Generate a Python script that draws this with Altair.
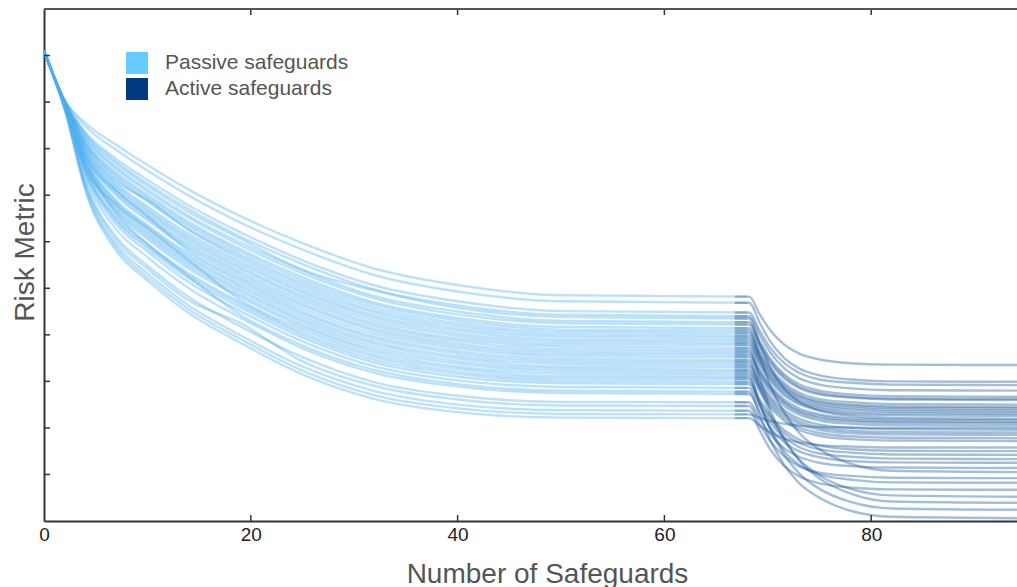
import altair as alt
import pandas as pd

# ---- values ----
passive_x = [0, 2, 4, 7, 10, 14, 19, 25, 32, 40, 50, 68]
passive_lines = [
    [10.1, 9.05, 8.55, 8.08, 7.65, 7.12, 6.55, 5.97, 5.42, 5.07, 4.85, 4.82],
    [10.1, 9.04, 8.48, 7.97, 7.53, 6.99, 6.41, 5.83, 5.28, 4.93, 4.72, 4.69],
    [10.1, 9.02, 8.36, 7.78, 7.33, 6.78, 6.20, 5.60, 5.06, 4.72, 4.51, 4.48],
    [10.1, 9.02, 8.32, 7.72, 7.25, 6.70, 6.11, 5.52, 4.97, 4.63, 4.43, 4.40],
    [10.1, 9.01, 8.29, 7.67, 7.20, 6.64, 6.06, 5.40, 4.95, 4.58, 4.38, 4.35],
    [10.1, 9.01, 8.25, 7.60, 7.13, 6.56, 5.98, 5.38, 4.83, 4.50, 4.30, 4.27],
    [10.1, 9.00, 8.22, 7.56, 7.08, 6.51, 5.92, 5.32, 4.78, 4.44, 4.25, 4.22],
    [10.1, 9.00, 8.17, 7.49, 7.01, 6.43, 5.84, 5.24, 4.69, 4.36, 4.17, 4.14],
    [10.1, 8.99, 8.14, 7.44, 6.96, 6.38, 5.79, 5.18, 4.64, 4.31, 4.11, 4.09],
    [10.1, 8.99, 8.12, 7.40, 6.91, 6.33, 5.73, 5.12, 4.58, 4.25, 4.06, 4.04],
    [10.1, 8.99, 8.09, 7.35, 6.86, 6.27, 5.68, 5.07, 4.52, 4.20, 4.01, 3.98],
    [10.1, 8.98, 8.06, 7.30, 6.90, 6.25, 5.63, 5.01, 4.47, 4.14, 3.96, 3.93],
    [10.1, 8.98, 8.03, 7.26, 6.76, 6.17, 5.57, 4.95, 4.41, 4.09, 3.90, 3.88],
    [10.1, 8.97, 8.00, 7.21, 6.71, 6.11, 5.52, 4.90, 4.36, 4.03, 3.85, 3.83],
    [10.1, 8.97, 7.97, 7.17, 6.66, 6.06, 5.46, 4.84, 4.30, 3.98, 3.80, 3.78],
    [10.1, 8.97, 7.94, 7.12, 6.61, 6.01, 5.41, 4.79, 4.24, 3.92, 3.75, 3.72],
    [10.1, 8.96, 7.91, 7.08, 6.56, 5.95, 5.35, 4.73, 4.19, 3.87, 3.69, 3.67],
    [10.1, 8.96, 7.88, 7.03, 6.51, 5.90, 5.30, 4.67, 4.13, 3.81, 3.64, 3.62],
    [10.1, 8.95, 7.85, 6.99, 6.46, 5.85, 5.24, 4.62, 4.08, 3.76, 3.59, 3.57],
    [10.1, 8.95, 7.83, 7.10, 6.55, 5.80, 5.19, 4.56, 4.02, 3.71, 3.54, 3.52],
    [10.1, 8.95, 7.80, 6.89, 6.36, 5.74, 5.14, 4.50, 3.96, 3.65, 3.48, 3.46],
    [10.1, 8.94, 7.77, 6.85, 6.31, 5.69, 5.08, 4.45, 3.91, 3.60, 3.43, 3.41],
    [10.1, 8.94, 7.74, 6.80, 6.26, 5.64, 5.03, 4.39, 3.85, 3.54, 3.38, 3.36],
    [10.1, 8.93, 7.71, 6.76, 6.21, 5.58, 4.97, 4.33, 3.80, 3.49, 3.32, 3.31],
    [10.1, 8.93, 7.68, 6.71, 6.16, 5.53, 4.92, 4.28, 3.74, 3.43, 3.27, 3.25],
    [10.1, 8.93, 7.65, 6.67, 6.11, 5.48, 4.86, 4.22, 3.68, 3.38, 3.22, 3.20],
    [10.1, 8.92, 7.62, 6.62, 6.06, 5.42, 4.81, 4.17, 3.63, 3.32, 3.17, 3.15],
    [10.1, 8.92, 7.59, 6.80, 6.30, 5.60, 4.75, 4.11, 3.57, 3.27, 3.11, 3.10],
    [10.1, 8.91, 7.56, 6.53, 5.96, 5.32, 4.70, 4.05, 3.52, 3.21, 3.06, 3.05],
    [10.1, 8.91, 7.54, 6.48, 5.91, 5.27, 4.65, 4.00, 3.46, 3.16, 3.01, 2.99],
    [10.1, 8.91, 7.51, 6.44, 5.86, 5.21, 4.59, 3.94, 3.40, 3.10, 2.96, 2.94],
    [10.1, 8.90, 7.46, 6.37, 5.79, 5.13, 4.51, 3.86, 3.32, 3.02, 2.88, 2.86],
    [10.1, 8.89, 7.70, 6.60, 5.95, 5.25, 4.43, 3.77, 3.24, 2.94, 2.80, 2.78],
    [10.1, 8.89, 7.39, 6.26, 5.67, 5.00, 4.37, 3.71, 3.18, 2.89, 2.75, 2.73],
    [10.1, 8.88, 7.29, 6.10, 5.49, 4.81, 4.18, 3.52, 2.98, 2.69, 2.56, 2.55],
    [10.1, 8.87, 7.25, 6.03, 5.42, 4.74, 4.25, 3.43, 2.90, 2.61, 2.48, 2.47],
    [10.1, 8.86, 7.19, 5.94, 5.32, 4.63, 3.99, 3.32, 2.79, 2.50, 2.38, 2.37],
    [10.1, 8.86, 7.14, 5.87, 5.24, 4.55, 3.91, 3.23, 2.70, 2.42, 2.30, 2.29],
    [10.1, 8.85, 7.10, 5.80, 5.17, 4.47, 3.83, 3.15, 2.62, 2.34, 2.22, 2.21],
]

active_x = [66.8, 68.2, 69.2, 70.2, 71.6, 73, 75, 78, 82, 94.5]
active_lines = [
    [4.82, 4.82, 4.45, 4.11, 3.79, 3.60, 3.47, 3.39, 3.36, 3.35],
    [4.69, 4.69, 4.27, 3.87, 3.50, 3.28, 3.13, 3.04, 3.00, 2.99],
    [4.48, 4.48, 4.09, 3.73, 3.39, 3.19, 3.04, 2.97, 2.93, 2.92],
    [4.40, 4.40, 4.00, 3.63, 3.28, 3.07, 2.93, 2.85, 2.81, 2.80],
    [4.35, 4.35, 3.81, 3.32, 2.84, 2.57, 2.37, 2.26, 2.21, 2.20],
    [4.27, 4.27, 3.87, 3.50, 3.15, 2.94, 2.80, 2.72, 2.68, 2.67],
    [4.22, 4.22, 3.82, 3.45, 3.10, 2.89, 2.75, 2.67, 2.63, 2.62],
    [4.14, 4.14, 3.76, 3.40, 3.06, 2.86, 2.72, 2.65, 2.61, 2.60],
    [4.09, 4.09, 3.54, 2.93, 2.33, 1.90, 1.54, 1.23, 1.08, 1.05],
    [4.04, 4.04, 3.66, 3.30, 2.96, 2.76, 2.62, 2.55, 2.51, 2.50],
    [3.98, 3.98, 3.60, 3.25, 2.91, 2.71, 2.57, 2.50, 2.46, 2.45],
    [3.93, 3.93, 3.55, 3.21, 2.87, 2.68, 2.54, 2.47, 2.43, 2.42],
    [3.88, 3.88, 3.51, 3.16, 2.83, 2.64, 2.50, 2.43, 2.39, 2.38],
    [3.83, 3.83, 3.46, 3.11, 2.79, 2.59, 2.46, 2.39, 2.35, 2.34],
    [3.78, 3.78, 3.41, 3.07, 2.74, 2.55, 2.42, 2.34, 2.31, 2.30],
    [3.72, 3.72, 3.36, 3.02, 2.70, 2.51, 2.38, 2.30, 2.27, 2.26],
    [3.67, 3.67, 3.08, 2.42, 1.77, 1.31, 0.91, 0.59, 0.42, 0.39],
    [3.62, 3.62, 3.26, 2.92, 2.61, 2.42, 2.29, 2.21, 2.18, 2.17],
    [3.57, 3.57, 3.21, 2.88, 2.56, 2.37, 2.25, 2.17, 2.14, 2.13],
    [3.52, 3.52, 3.17, 2.84, 2.53, 2.34, 2.21, 2.14, 2.11, 2.10],
    [3.46, 3.46, 3.11, 2.78, 2.47, 2.29, 2.16, 2.09, 2.06, 2.05],
    [3.41, 3.41, 2.89, 2.31, 1.73, 1.33, 0.98, 0.69, 0.55, 0.52],
    [3.36, 3.36, 3.01, 2.69, 2.38, 2.20, 2.07, 2.00, 1.97, 1.96],
    [3.31, 3.31, 2.96, 2.63, 2.32, 2.14, 2.01, 1.94, 1.91, 1.90],
    [3.25, 3.25, 2.90, 2.58, 2.27, 2.09, 1.96, 1.89, 1.86, 1.85],
    [3.20, 3.20, 2.85, 2.52, 2.21, 2.02, 1.89, 1.82, 1.79, 1.78],
    [3.15, 3.15, 2.79, 2.46, 2.15, 1.96, 1.83, 1.76, 1.73, 1.72],
    [3.10, 3.10, 2.53, 2.01, 1.50, 1.21, 1.00, 0.89, 0.83, 0.82],
    [3.05, 3.05, 2.54, 1.98, 1.42, 1.03, 0.69, 0.41, 0.27, 0.24],
    [2.99, 2.99, 2.62, 2.27, 1.95, 1.75, 1.62, 1.54, 1.51, 1.50],
    [2.94, 2.94, 2.56, 2.21, 1.88, 1.68, 1.54, 1.47, 1.43, 1.42],
    [2.86, 2.86, 2.48, 2.13, 1.79, 1.59, 1.45, 1.38, 1.34, 1.33],
    [2.78, 2.78, 2.29, 1.75, 1.20, 0.82, 0.50, 0.22, 0.09, 0.06],
    [2.73, 2.73, 2.36, 2.02, 1.69, 1.50, 1.37, 1.29, 1.26, 1.25],
    [2.55, 2.55, 2.20, 1.87, 1.56, 1.38, 1.25, 1.18, 1.15, 1.14],
    [2.47, 2.47, 2.08, 1.73, 1.39, 1.18, 1.04, 0.97, 0.93, 0.92],
    [2.37, 2.37, 1.95, 1.55, 1.18, 0.96, 0.81, 0.72, 0.68, 0.67],
    [2.29, 2.29, 2.22, 2.15, 2.09, 2.05, 2.02, 2.01, 2.00, 2.00],
    [2.21, 2.21, 2.05, 1.91, 1.77, 1.69, 1.63, 1.60, 1.58, 1.58],
]

legend_labels = ["Passive safeguards", "Active safeguards"]
legend_colors = ["#66CCFF", "#003A80"]
x_label_ticks = [0, 20, 40, 60, 80]
x_inner_ticks = [20, 40, 60, 80]
y_inner_ticks = [1, 2, 3, 4, 5, 6, 7, 8, 9, 10]

# ---- build tables ----
prow = []
for i, ys in enumerate(passive_lines):
    for x, y in zip(passive_x, ys):
        prow.append({"x": x, "y": y, "line": f"p{i}"})
df_p = pd.DataFrame(prow)

arow = []
for i, ys in enumerate(active_lines):
    for x, y in zip(active_x, ys):
        arow.append({"x": x, "y": y, "line": f"a{i}"})
df_a = pd.DataFrame(arow)

W, H = 973, 512
FONT = "Liberation Sans"

xs = alt.Scale(domain=[0, 94.1], nice=False, zero=False)
ys = alt.Scale(domain=[0, 11], nice=False, zero=False)

x_axis = alt.Axis(
    values=x_label_ticks, title="Number of Safeguards", ticks=False, grid=False,
    labelFontSize=19, labelColor="#222", labelPadding=4, labelFont=FONT,
    labelFlush=False, labelOverlap=False,
    domain=True, domainColor="#333", domainWidth=2,
    titleFont=FONT, titleFontSize=28, titleColor="#555", titleFontWeight="normal",
    titleX=503, titleY=61, titleBaseline="alphabetic", titleAlign="center",
)
y_axis = alt.Axis(
    title="Risk Metric", labels=False, ticks=False, grid=False,
    domain=True, domainColor="#333", domainWidth=2,
    titleFont=FONT, titleFontSize=28, titleColor="#555", titleFontWeight="normal",
    titleX=-11, titleY=243, titleAngle=270, titleBaseline="alphabetic", titleAlign="center",
)

X = alt.X("x:Q", scale=xs, axis=x_axis)
Y = alt.Y("y:Q", scale=ys, axis=y_axis)

passive = alt.Chart(df_p).mark_line(
    interpolate="monotone", strokeWidth=2.4, opacity=0.38, color="#4fb0ee", clip=True
).encode(x=X, y=Y, detail="line:N")

active = alt.Chart(df_a).mark_line(
    interpolate="monotone", strokeWidth=2.4, opacity=0.4, color="#1d5c9e", clip=True
).encode(x=X, y=Y, detail="line:N")

tx = pd.DataFrame({"x": x_inner_ticks})
top_ticks = alt.Chart(tx).mark_rule(color="#333", strokeWidth=1.5).encode(
    x=X, y=alt.value(0), y2=alt.value(6))
bottom_ticks = alt.Chart(tx).mark_rule(color="#333", strokeWidth=1.5).encode(
    x=X, y=alt.value(H), y2=alt.value(H - 6))
ty = pd.DataFrame({"y": y_inner_ticks})
left_ticks = alt.Chart(ty).mark_rule(color="#333", strokeWidth=1.5).encode(
    y=Y, x=alt.value(0), x2=alt.value(6))
top_border = alt.Chart(pd.DataFrame({"y": [11]})).mark_rule(color="#555", strokeWidth=2).encode(
    y=Y, x=alt.value(0), x2=alt.value(W))

legend_layer = alt.Chart(pd.DataFrame({"group": legend_labels})).mark_square(opacity=0).encode(
    color=alt.Color(
        "group:N",
        scale=alt.Scale(domain=legend_labels, range=legend_colors),
        legend=alt.Legend(
            title=None, orient="none", legendX=82, legendY=43,
            symbolType="square", symbolSize=484, symbolOpacity=1, symbolStrokeWidth=0,
            labelFontSize=21, labelColor="#555", labelFont=FONT, labelOffset=17,
            labelLimit=0, rowPadding=4, padding=0,
        ),
    )
)

chart = alt.layer(
    passive, active, top_ticks, bottom_ticks, left_ticks, top_border, legend_layer
).properties(
    width=W, height=H,
    autosize=alt.AutoSizeParams(type="none"),
    padding={"left": 44, "top": 9, "right": 0, "bottom": 66},
    background="white",
).configure_view(stroke=None)

chart.save("out.html", embed_options={"renderer": "svg", "actions": False})
